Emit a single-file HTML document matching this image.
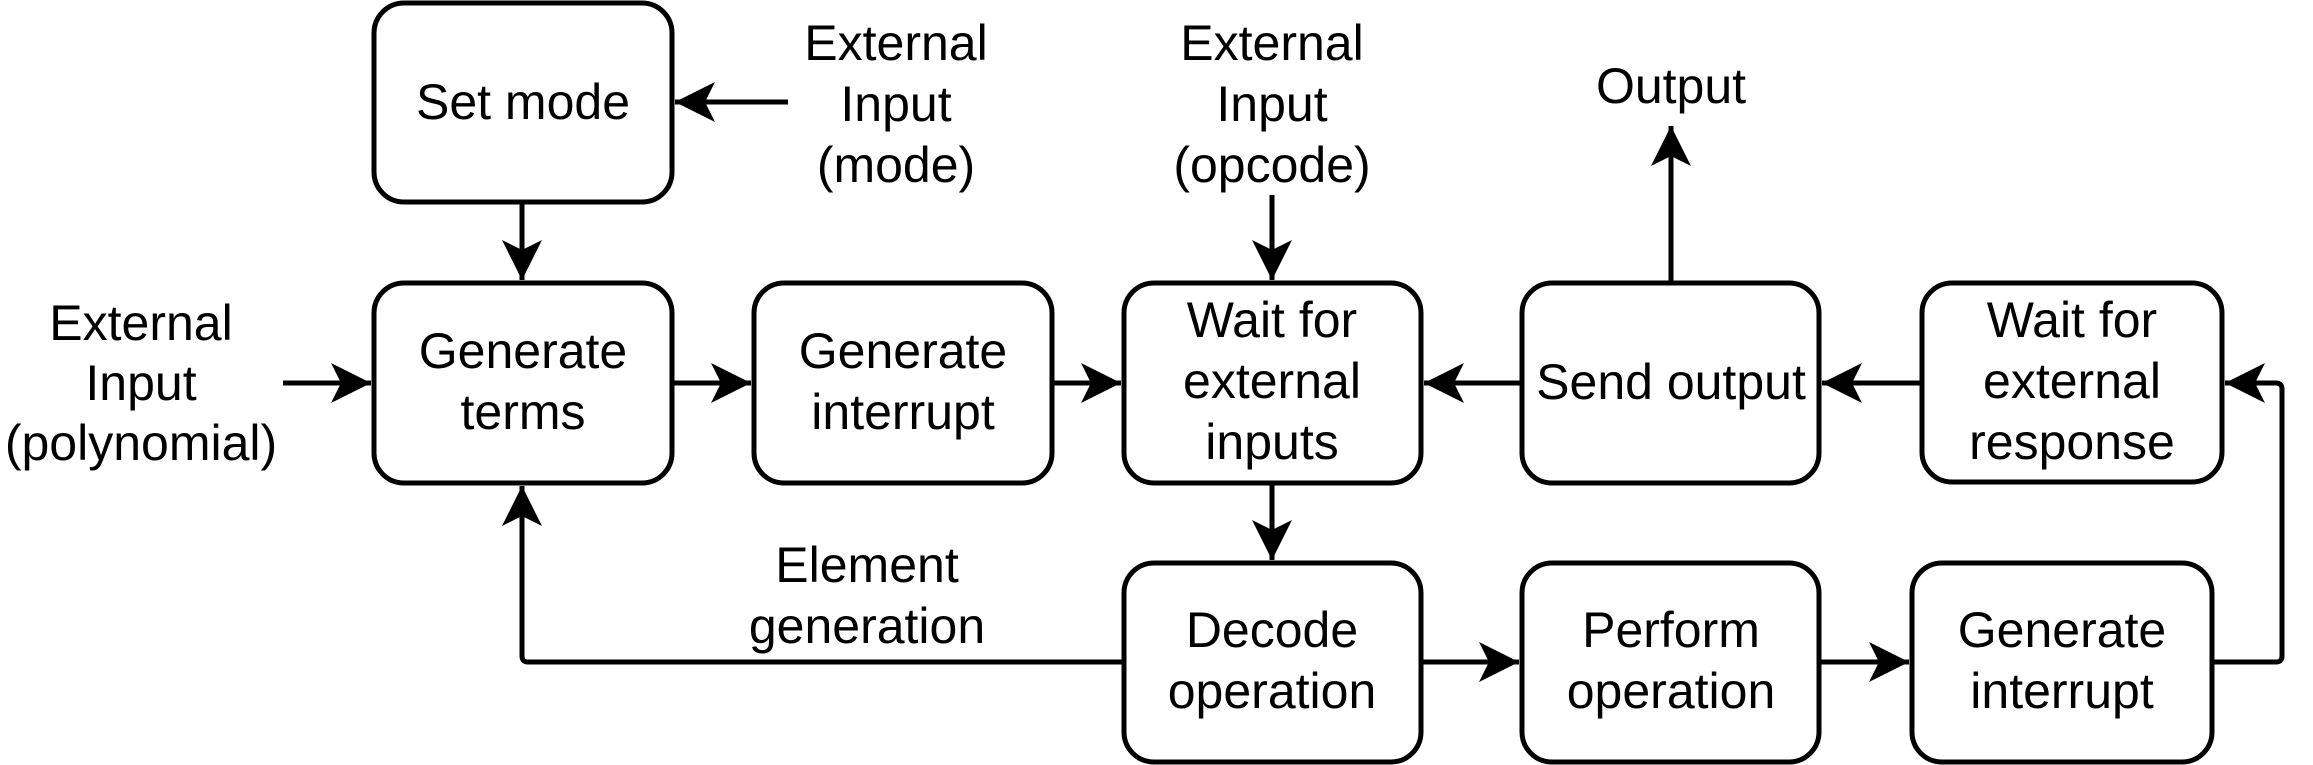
<!DOCTYPE html>
<html><head><meta charset="utf-8"><style>
html,body{margin:0;padding:0;background:#fff;}
svg{display:block;}
text{font-family:"Liberation Sans",sans-serif;font-size:50px;fill:#000;text-anchor:middle;}
</style></head><body>
<svg width="2313" height="765" viewBox="0 0 2313 765" xmlns="http://www.w3.org/2000/svg">
<defs>
<marker id="a" markerUnits="userSpaceOnUse" markerWidth="44" markerHeight="44" refX="40" refY="22" orient="auto">
<path d="M40,22 L0,2 L10,22 L0,42 Z" fill="#000"/>
</marker>
</defs>
<g fill="#fff" stroke="#000" stroke-width="5">
<rect x="374" y="3" width="298" height="199" rx="30"/>
<rect x="374" y="283" width="298" height="200" rx="30"/>
<rect x="754" y="283" width="298" height="200" rx="30"/>
<rect x="1124" y="283" width="297" height="200" rx="30"/>
<rect x="1522" y="283" width="297" height="200" rx="30"/>
<rect x="1922" y="283" width="300" height="199" rx="30"/>
<rect x="1124" y="563" width="297" height="199" rx="30"/>
<rect x="1522" y="563" width="297" height="199" rx="30"/>
<rect x="1912" y="563" width="300" height="199" rx="30"/>
</g>
<g fill="none" stroke="#000" stroke-width="5" marker-end="url(#a)">
<path d="M788,102 L675,102"/>
<path d="M522,202 L522,280"/>
<path d="M283,383 L371,383"/>
<path d="M672,383 L751,383"/>
<path d="M1052,383 L1121,383"/>
<path d="M1272,195 L1272,280"/>
<path d="M1522,383 L1424,383"/>
<path d="M1922,383 L1822,383"/>
<path d="M1671,283 L1671,126"/>
<path d="M1272,483 L1272,560"/>
<path d="M1421,662 L1519,662"/>
<path d="M1819,662 L1909,662"/>
<path d="M2212,662 L2276,662 Q2282,662 2282,656 L2282,389 Q2282,383 2276,383 L2225,383"/>
<path d="M1124,662 L528,662 Q522,662 522,656 L522,486"/>
</g>
<text x="523" y="119">Set mode</text>
<text x="896" y="60">External</text>
<text x="896" y="121">Input</text>
<text x="896" y="182">(mode)</text>
<text x="141" y="340">External</text>
<text x="141" y="400">Input</text>
<text x="141" y="460">(polynomial)</text>
<text x="523" y="368">Generate</text>
<text x="523" y="429">terms</text>
<text x="903" y="368">Generate</text>
<text x="903" y="429">interrupt</text>
<text x="1272" y="60">External</text>
<text x="1272" y="121">Input</text>
<text x="1272" y="182">(opcode)</text>
<text x="1272" y="337">Wait for</text>
<text x="1272" y="398">external</text>
<text x="1272" y="459">inputs</text>
<text x="1671" y="103">Output</text>
<text x="1671" y="399">Send output</text>
<text x="2072" y="337">Wait for</text>
<text x="2072" y="398">external</text>
<text x="2072" y="459">response</text>
<text x="867" y="582">Element</text>
<text x="867" y="643">generation</text>
<text x="1272" y="647">Decode</text>
<text x="1272" y="708">operation</text>
<text x="1671" y="647">Perform</text>
<text x="1671" y="708">operation</text>
<text x="2062" y="647">Generate</text>
<text x="2062" y="708">interrupt</text>
</svg>
</body></html>
